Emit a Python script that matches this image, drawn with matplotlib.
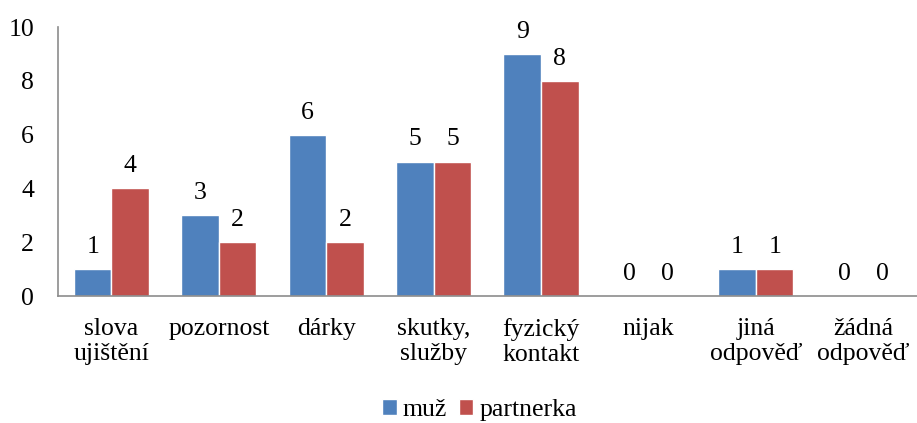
import numpy as np
import matplotlib
matplotlib.use('Agg')
import matplotlib.pyplot as plt

# Data
categories = ['slova\nujištění', 'pozornost', 'dárky', 'skutky,\nslužby',
              'fyzický\nkontakt', 'nijak', 'jiná\nodpověď', 'žádná\nodpověď']
muz = [1, 3, 6, 5, 9, 0, 1, 0]
partnerka = [4, 2, 2, 5, 8, 0, 1, 0]
series_names = ['muž', 'partnerka']
colors = ['#4F81BD', '#C0504D']

plt.rcParams['font.family'] = ['Liberation Serif', 'DejaVu Serif']
fs = 18.5

fig = plt.figure(figsize=(9.17, 4.23), dpi=100)
ax = fig.add_axes([0.063, 0.30, 0.937, 0.636])

x = np.arange(len(categories))
w = 0.35
b1 = ax.bar(x - w / 2, muz, w, color=colors[0], edgecolor='white', linewidth=1, label=series_names[0])
b2 = ax.bar(x + w / 2, partnerka, w, color=colors[1], edgecolor='white', linewidth=1, label=series_names[1])

for bars, vals in ((b1, muz), (b2, partnerka)):
    for rect, v in zip(bars, vals):
        ax.annotate(str(v), (rect.get_x() + rect.get_width() / 2, v),
                    xytext=(0, 8), textcoords='offset points',
                    ha='center', va='bottom', fontsize=fs)

ax.set_xlim(-0.5, len(categories) - 0.5)
ax.set_ylim(0, 10)
ax.set_yticks([0, 2, 4, 6, 8, 10])
ax.set_xticks(x)
ax.set_xticklabels(categories, fontsize=fs, linespacing=1.15)
ax.tick_params(axis='both', length=0, labelsize=fs)
ax.tick_params(axis='x', pad=16)
ax.tick_params(axis='y', pad=17)

for s in ['top', 'right']:
    ax.spines[s].set_visible(False)
for s in ['left', 'bottom']:
    ax.spines[s].set_color('#8C8C8C')
    ax.spines[s].set_linewidth(1.2)

fig.legend(handles=[b1, b2], labels=series_names, loc='center',
           bbox_to_anchor=(0.523, 0.031), ncol=2, frameon=False, fontsize=fs,
           handlelength=0.55, handleheight=0.55, handletextpad=0.25, columnspacing=0.45)

plt.savefig('out.png', dpi=100)
